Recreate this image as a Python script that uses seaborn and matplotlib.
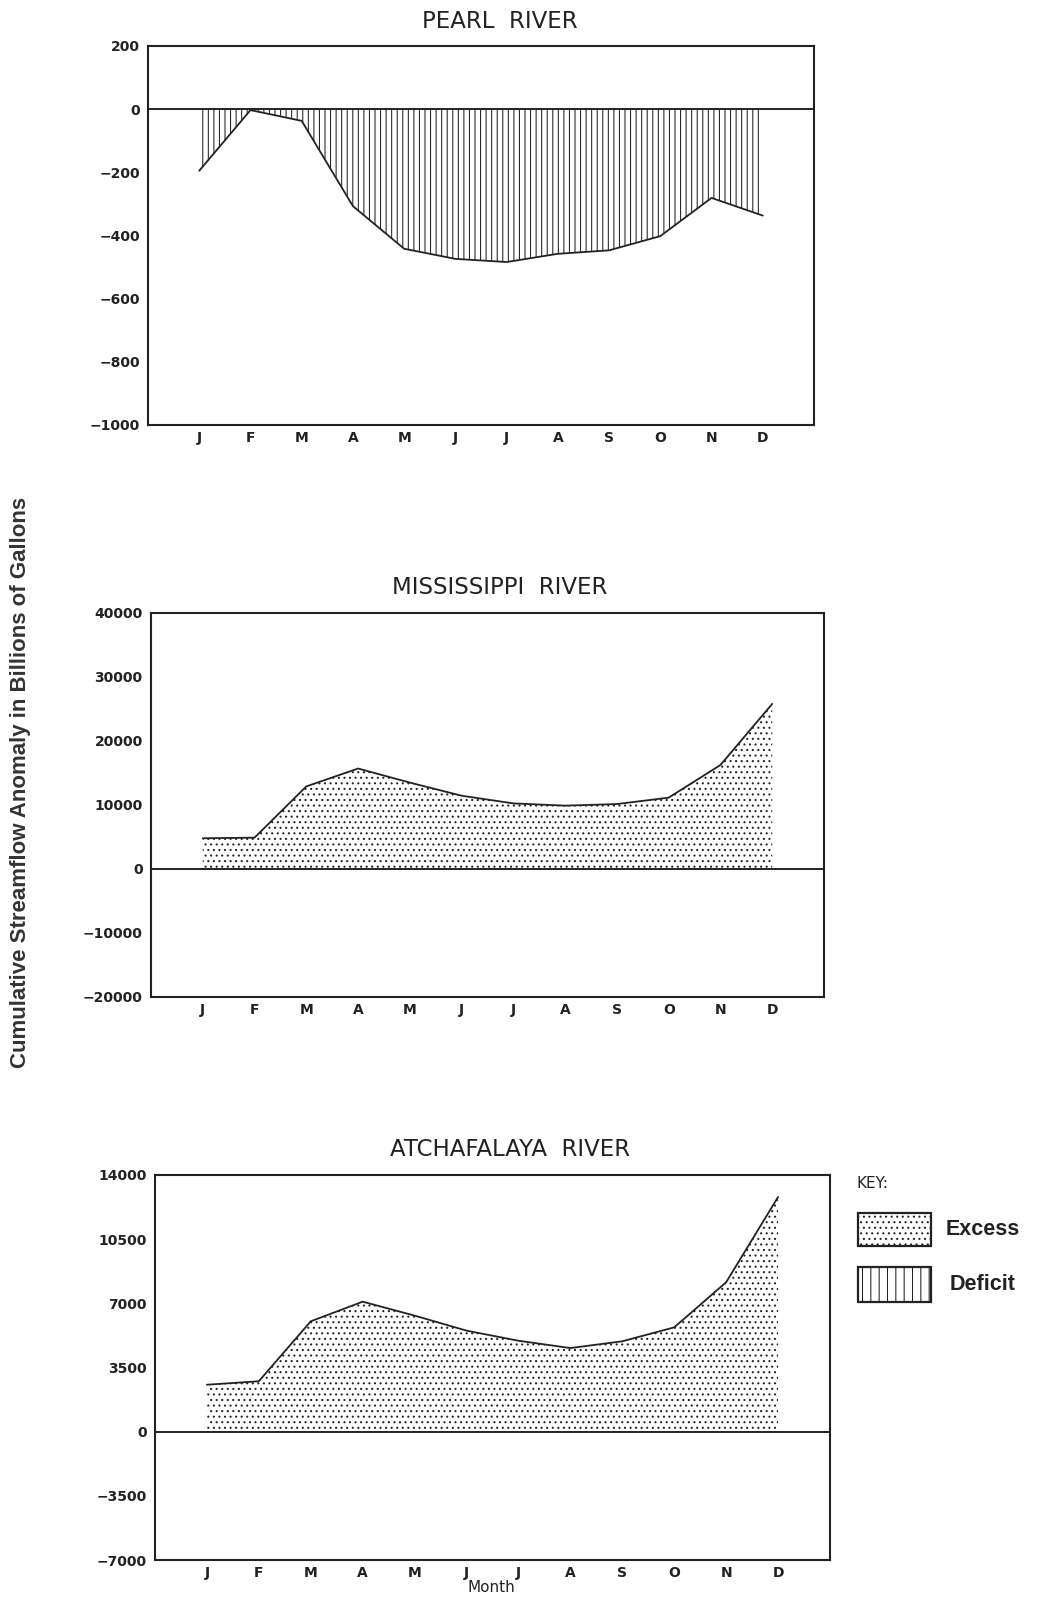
import numpy as np
import pandas as pd
import matplotlib
matplotlib.use("Agg")
import matplotlib.pyplot as plt
from matplotlib.patches import Rectangle
import seaborn as sns

# ---- data: cumulative streamflow anomaly (billions of gallons) ----
months = ["J", "F", "M", "A", "M", "J", "J", "A", "S", "O", "N", "D"]

pearl = [-195, -3, -37, -307, -442, -474, -484, -458, -447, -402, -281, -337]
mississippi = [4800, 4900, 12900, 15700, 13500, 11450, 10250, 9900, 10150,
               11150, 16250, 25800]
atchafalaya = [2560, 2750, 6020, 7090, 6330, 5510, 4960, 4560, 4930, 5690,
               8150, 12800]

titles = ["PEARL  RIVER", "MISSISSIPPI  RIVER", "ATCHAFALAYA  RIVER"]
pearl_ticks = [200, 0, -200, -400, -600, -800, -1000]
miss_ticks = [40000, 30000, 20000, 10000, 0, -10000, -20000]
atch_ticks = [14000, 10500, 7000, 3500, 0, -3500, -7000]

sns.set_theme(style="white")
plt.rcParams["font.family"] = ["DejaVu Sans"]
plt.rcParams["hatch.linewidth"] = 0.75
plt.rcParams["hatch.color"] = "#222222"

INK = "#222222"
W, H = 1045, 1598
fig = plt.figure(figsize=(W / 100, H / 100), dpi=100)


def frac_box(left, top, right, bottom):
    return [left / W, 1 - bottom / H, (right - left) / W, (bottom - top) / H]


panels = [
    (frac_box(148, 46, 814, 425), pearl, pearl_ticks, titles[0], (500, 21)),
    (frac_box(151, 613, 824, 997), mississippi, miss_ticks, titles[1], (500, 587)),
    (frac_box(155, 1175, 830, 1560), atchafalaya, atch_ticks, titles[2], (510, 1150)),
]

x = np.arange(len(months))
axes = []
for box, vals, yticks, title, (tx, ty) in panels:
    ax = fig.add_axes(box)
    axes.append(ax)
    y = np.array(vals, dtype=float)
    df = pd.DataFrame({"month": x, "value": y})

    # excess (dotted) and deficit (vertical lines) areas
    ax.fill_between(x, 0, y, where=y >= 0, interpolate=True,
                    facecolor="none", edgecolor=INK, linewidth=0, hatch="...")
    ax.fill_between(x, 0, y, where=y <= 0, interpolate=True,
                    facecolor="none", edgecolor=INK, linewidth=0, hatch="|||")
    sns.lineplot(data=df, x="month", y="value", ax=ax, color=INK,
                 linewidth=1.3, legend=False)
    ax.axhline(0, color=INK, linewidth=1.4)

    ax.set_xlim(-1, 12)
    ax.set_ylim(min(yticks), max(yticks))
    ax.set_xticks(x)
    ax.set_xticklabels(months)
    ax.set_yticks(yticks)
    ax.set_yticklabels([f"{t}".replace("-", "\u2212") for t in yticks])
    ax.set_xlabel("")
    ax.set_ylabel("")
    ax.tick_params(axis="both", direction="inout", length=6, width=1.2,
                   color=INK, labelcolor=INK, labelsize=10)
    ax.tick_params(axis="y", pad=3)
    ax.tick_params(axis="x", pad=1.5)
    for lab in ax.get_xticklabels() + ax.get_yticklabels():
        lab.set_fontweight("bold")
    for sp in ax.spines.values():
        sp.set_visible(True)
        sp.set_color(INK)
        sp.set_linewidth(1.5)
    fig.text(tx / W, 1 - ty / H, title, ha="center", va="center",
             fontsize=16.5, color=INK)

fig.text(491 / W, 1 - 1588 / H, "Month", ha="center", va="center",
         fontsize=11, color=INK)

fig.text(21 / W, 1 - 782 / H,
         "Cumulative Streamflow Anomaly in Billions of Gallons",
         rotation=90, ha="center", va="center", fontsize=16,
         fontweight="bold", color="#333333", family=["Liberation Sans", "DejaVu Sans"])

# key
fig.text(856 / W, 1 - 1183 / H, "KEY:", ha="left", va="center",
         fontsize=11, color=INK)
for (top, bottom, hatch, label, lx) in [(1213, 1246, "...", "Excess", 946),
                                         (1267, 1302, "||", "Deficit", 950)]:
    fig.add_artist(Rectangle((858 / W, 1 - bottom / H), 73 / W,
                             (bottom - top) / H, transform=fig.transFigure,
                             facecolor="white", edgecolor=INK, linewidth=1.6,
                             hatch=hatch))
    fig.text(lx / W, 1 - (top + bottom) / 2 / H, label, ha="left", va="center",
             fontsize=15.5, fontweight="bold", color=INK,
             family=["Liberation Sans", "DejaVu Sans"])

fig.savefig("out.png", dpi=100, facecolor="white")
